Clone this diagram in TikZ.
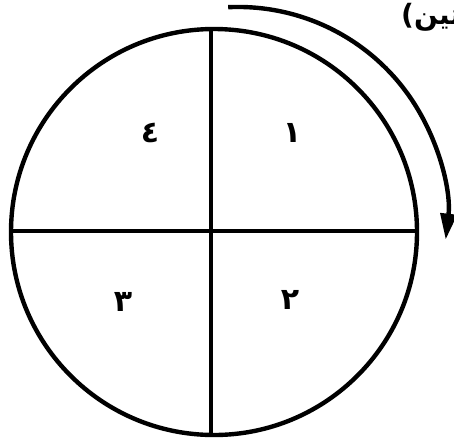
\documentclass[tikz,border=0pt]{standalone}
\usepackage{fontspec}
\newfontfamily\arabicfont[Script=Arabic]{DejaVu Sans}
\TeXXeTstate=1
\usetikzlibrary{arrows.meta}
\begin{document}
\begin{tikzpicture}[x=1pt,y=1pt,
  thick line/.style={line width=4.4pt},
  digit/.style={font=\arabicfont\bfseries\fontsize{30}{30}\selectfont, inner sep=0pt}]
\useasboundingbox (0,0) rectangle (454,-442);
\node[draw, circle, thick line, minimum size=406pt, inner sep=0pt] (c) at (214,-232) {};
\coordinate (t) at (211,-29);
\coordinate (b) at (211,-435);
\coordinate (l) at (11,-231);
\coordinate (r) at (417,-231);
\draw[thick line] (t) -- (b);
\draw[thick line] (l) -- (r);
\node[digit] (d1) at (292,-133) {١};
\node[digit] (d4) at (150,-133) {٤};
\node[digit] (d3) at (123,-302) {٣};
\node[digit] (d2) at (290,-300) {٢};
\coordinate (as) at (228.2,-7.2);
\draw[thick line, -{Triangle[length=26pt,width=16pt]}] (as) arc[start angle=92.7, end angle=-6.5, radius=209];
\node[anchor=west, inner sep=0pt, font=\arabicfont\bfseries\fontsize{28}{28}\selectfont] (txt) at (401,-17) {\beginR ـتين)\endR};
\end{tikzpicture}
\end{document}
